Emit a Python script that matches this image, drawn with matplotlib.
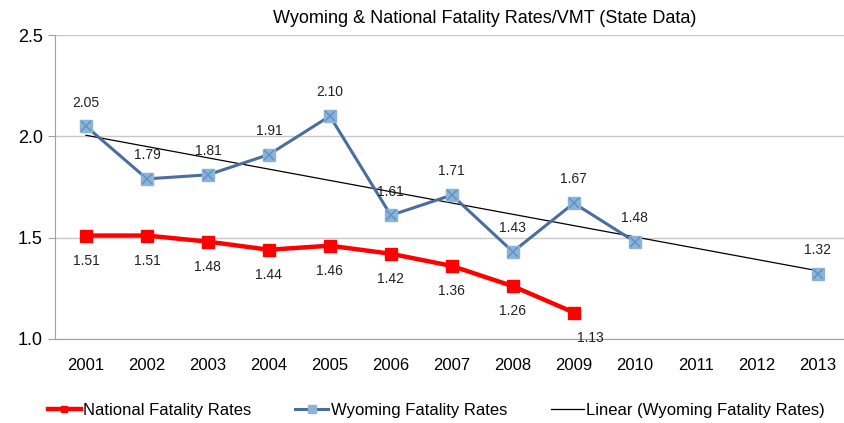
import numpy as np
import matplotlib
matplotlib.use("Agg")
import matplotlib.pyplot as plt

# data
years = ["2001", "2002", "2003", "2004", "2005", "2006", "2007",
         "2008", "2009", "2010", "2011", "2012", "2013"]
national = [1.51, 1.51, 1.48, 1.44, 1.46, 1.42, 1.36, 1.26, 1.13,
            None, None, None, None]
wyoming = [2.05, 1.79, 1.81, 1.91, 2.10, 1.61, 1.71, 1.43, 1.67, 1.48,
           None, None, 1.32]

plt.rcParams['font.family'] = ['Liberation Sans', 'DejaVu Sans']

x = np.arange(1, len(years) + 1)
nat = np.array([np.nan if v is None else v for v in national])
wyo = np.array([np.nan if v is None else v for v in wyoming])

fig = plt.figure(figsize=(8.44, 4.23), dpi=100)
ax = fig.add_axes([0.0657, 0.199, 0.9343, 0.718])

# linear trend of the wyoming series (like excel's trendline)
ok = ~np.isnan(wyo)
slope, icept = np.polyfit(x[ok], wyo[ok], 1)
ax.plot([x[0], x[-1]], [icept + slope * x[0], icept + slope * x[-1]],
        color='black', lw=0.9, zorder=2, label='Linear (Wyoming Fatality Rates)')

ax.plot(x, nat, color='#FF0000', lw=3.2, marker='s', ms=8,
        zorder=3, label='National Fatality Rates')
ax.plot(x, wyo, color='#4A6E9E', lw=2.2, marker='s', ms=8.5,
        mfc='#8CB4D8', mec='#8CB4D8', zorder=3, label='Wyoming Fatality Rates')
ax.plot(x, wyo, ls='none', marker='x', ms=7.5, mew=1.1,
        color='#5E93C4', zorder=4)

for xi, v in zip(x, wyo):
    if not np.isnan(v):
        ax.annotate(f"{v:.2f}", (xi, v), xytext=(0, 12), textcoords='offset points',
                    ha='center', va='bottom', fontsize=10, color='#222222')
for xi, v in zip(x, nat):
    if not np.isnan(v):
        dx = 12 if xi == 9 else 0
        ax.annotate(f"{v:.2f}", (xi, v), xytext=(dx, -13), textcoords='offset points',
                    ha='center', va='top', fontsize=10, color='#222222')

ax.set_xlim(0.5, 13.43)
ax.set_ylim(1.0, 2.5)
ax.set_yticks([1.0, 1.5, 2.0, 2.5])
ax.set_yticklabels(["1.0", "1.5", "2.0", "2.5"], fontsize=13)
ax.set_xticks(x)
ax.set_xticklabels(years, fontsize=12)
ax.tick_params(axis='x', length=0, pad=14)
ax.tick_params(axis='y', length=5, color='#A0A0A0', pad=4)
ax.grid(axis='y', color='#C8C8C8', lw=1)
ax.set_axisbelow(True)
for s in ['top', 'right']:
    ax.spines[s].set_visible(False)
ax.spines['left'].set_color('#A0A0A0')
ax.spines['bottom'].set_color('#A0A0A0')

fig.text(0.574, 0.957, "Wyoming & National Fatality Rates/VMT (State Data)",
         ha='center', va='center', fontsize=13)

h, l = ax.get_legend_handles_labels()
order = [1, 2, 0]
fig.legend([h[i] for i in order], [l[i] for i in order], loc='center',
           bbox_to_anchor=(0.517, 0.03), ncol=3, frameon=False,
           prop={'size': 12}, handlelength=2.0,
           columnspacing=2.6, handletextpad=0.15, markerscale=0.6)

fig.savefig("out.png", dpi=100)
